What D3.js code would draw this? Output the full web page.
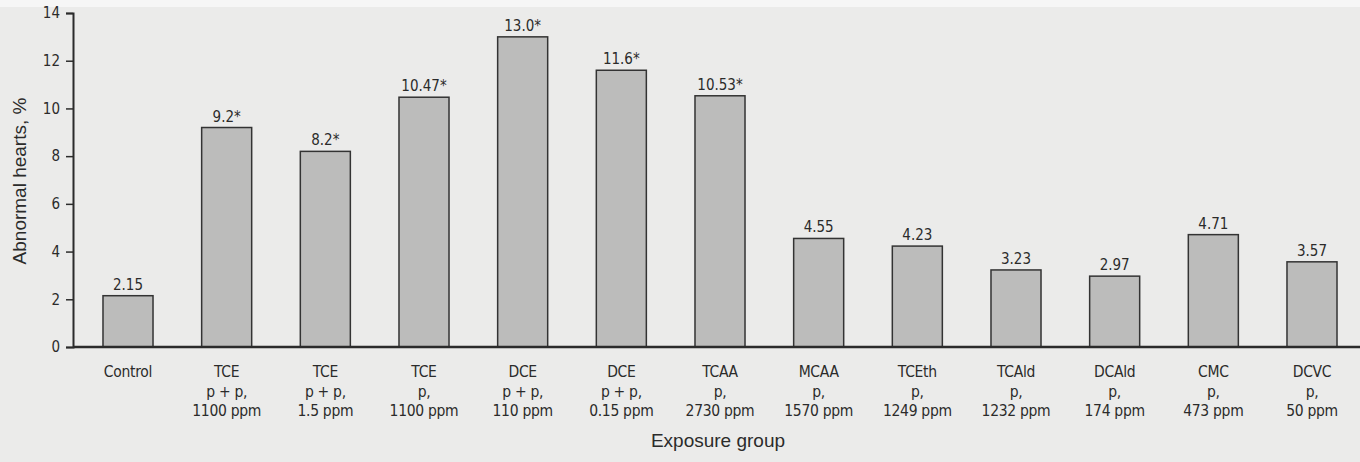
<!DOCTYPE html>
<html>
<head>
<meta charset="utf-8">
<script src="https://cdn.jsdelivr.net/npm/d3@7"></script>
<style>
  html, body { margin: 0; padding: 0; background: #ebebea; }
  svg { display: block; }
  text { fill: #2b2b2b; font-family: "Liberation Sans Narrow", "DejaVu Sans Condensed", "Roboto Condensed", sans-serif; }
</style>
</head>
<body>
<svg id="chart" width="1360" height="462"></svg>
<script>
const groupNames = ["Control", "TCE", "TCE", "TCE", "DCE", "DCE", "TCAA", "MCAA", "TCEth", "TCAld", "DCAld", "CMC", "DCVC"];
const exposureRoutes = ["", "p + p,", "p + p,", "p,", "p + p,", "p + p,", "p,", "p,", "p,", "p,", "p,", "p,", "p,"];
const doses = ["", "1100 ppm", "1.5 ppm", "1100 ppm", "110 ppm", "0.15 ppm", "2730 ppm", "1570 ppm", "1249 ppm", "1232 ppm", "174 ppm", "473 ppm", "50 ppm"];
const abnormalPct = [2.15, 9.2, 8.2, 10.47, 13.0, 11.6, 10.53, 4.55, 4.23, 3.23, 2.97, 4.71, 3.57];
const valueLabels = ["2.15", "9.2*", "8.2*", "10.47*", "13.0*", "11.6*", "10.53*", "4.55", "4.23", "3.23", "2.97", "4.71", "3.57"];
const yTicks = [0, 2, 4, 6, 8, 10, 12, 14];

const svg = d3.select("#chart");
const W = 1360, H = 462;

svg.append("rect").attr("x", 0).attr("y", 0).attr("width", W).attr("height", H).attr("fill", "#ebebea");
svg.append("rect").attr("x", 0).attr("y", 0).attr("width", W).attr("height", 7).attr("fill", "#f6f6f6");

const ids = groupNames.map((d, i) => i);
const x = d3.scaleBand().domain(ids).range([73, 1367]).paddingInner(0.493).paddingOuter(0.304);
const y = d3.scaleLinear().domain([0, 14]).range([347, 13]);

// y axis
const yAxis = d3.axisLeft(y).tickValues(yTicks).tickSize(7).tickPadding(6).tickFormat(d3.format("d"));
const gy = svg.append("g").attr("transform", "translate(73,0)").call(yAxis);
gy.select(".domain").attr("stroke", "#2b2b2b").attr("stroke-width", 2);
gy.selectAll(".tick line").attr("stroke", "#2b2b2b").attr("stroke-width", 1.5);
gy.selectAll(".tick text").attr("font-size", 15).attr("fill", "#2b2b2b")
  .style("font-family", "'Liberation Sans Narrow', 'DejaVu Sans Condensed', sans-serif");

// bars
svg.append("g").selectAll("rect").data(abnormalPct).join("rect")
  .attr("x", (d, i) => x(i))
  .attr("y", d => y(d))
  .attr("width", x.bandwidth())
  .attr("height", d => y(0) - y(d))
  .attr("fill", "#bcbcbb")
  .attr("stroke", "#333")
  .attr("stroke-width", 1.5);

// value labels
svg.append("g").selectAll("text").data(abnormalPct).join("text")
  .attr("x", (d, i) => x(i) + x.bandwidth() / 2)
  .attr("y", d => y(d) - 6)
  .attr("text-anchor", "middle")
  .attr("font-size", 15)
  .text((d, i) => valueLabels[i]);

// baseline
svg.append("line").attr("x1", 73).attr("x2", W).attr("y1", y(0)).attr("y2", y(0))
  .attr("stroke", "#2b2b2b").attr("stroke-width", 2.5);

// x category labels
const xl = svg.append("g").selectAll("text").data(ids).join("text")
  .attr("text-anchor", "middle")
  .attr("font-size", 15.5)
  .attr("letter-spacing", -0.3);
xl.each(function(i) {
  const t = d3.select(this);
  const cx = x(i) + x.bandwidth() / 2;
  const lines = [groupNames[i], exposureRoutes[i], doses[i]];
  lines.forEach((s, k) => {
    if (!s) return;
    t.append("tspan").attr("x", cx).attr("y", 377 + k * 19.5).text(s);
  });
});

// axis titles
svg.append("text").attr("x", 718).attr("y", 447).attr("text-anchor", "middle")
  .attr("font-size", 19).text("Exposure group")
  .style("font-family", "'Liberation Sans', 'DejaVu Sans', sans-serif");
svg.append("text").attr("transform", "translate(26,181) rotate(-90)").attr("text-anchor", "middle")
  .attr("font-size", 19).text("Abnormal hearts, %")
  .style("font-family", "'Liberation Sans', 'DejaVu Sans', sans-serif");
</script>
</body>
</html>
